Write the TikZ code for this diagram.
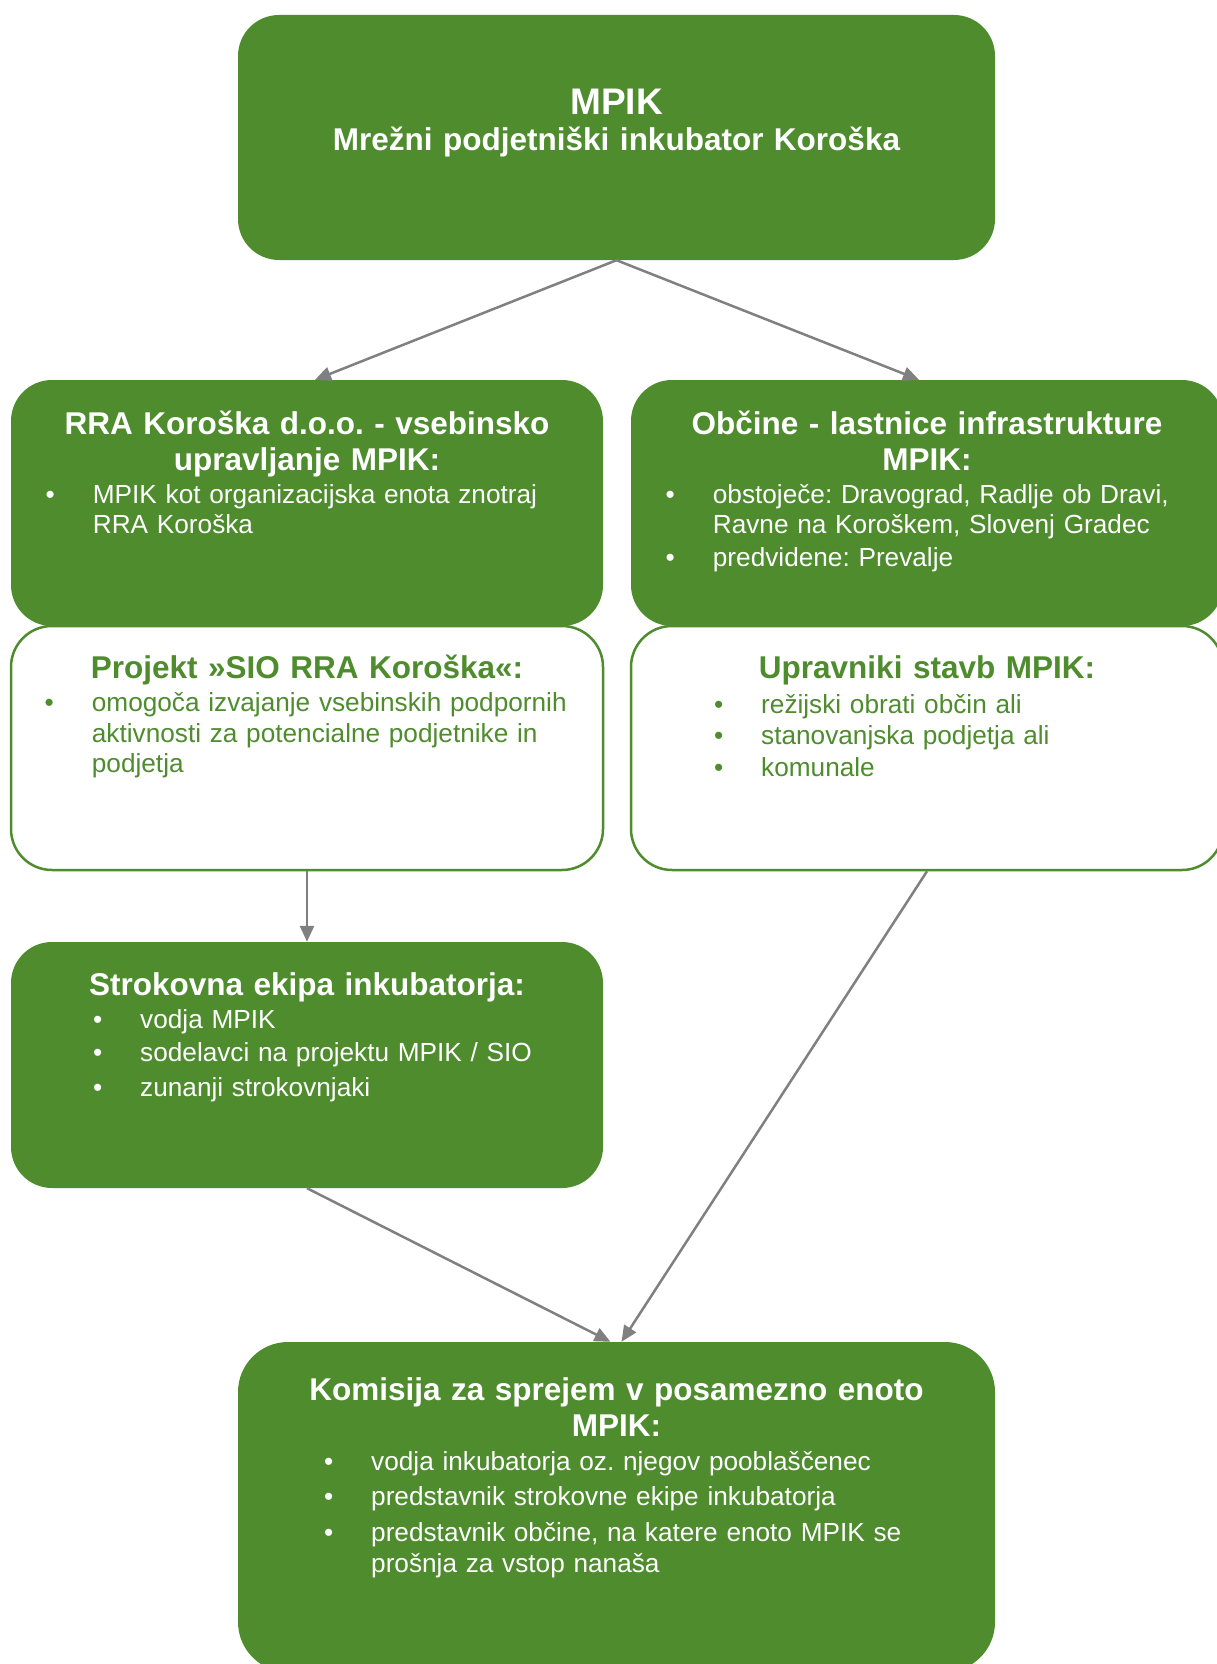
\documentclass[tikz,border=0pt]{standalone}
\usepackage{fontspec}
\setmainfont{Liberation Sans}
\usetikzlibrary{arrows.meta}
\frenchspacing

\definecolor{mpikgreen}{RGB}{78,140,46}
\definecolor{linegray}{RGB}{128,128,128}

\tikzset{
    greenbox/.style={rectangle, rounded corners=41pt, fill=mpikgreen,
        minimum width=592pt, minimum height=246pt, inner sep=0pt},
    whitebox/.style={rectangle, rounded corners=41pt, draw=mpikgreen,
        line width=2.5pt, fill=white, minimum width=592pt,
        minimum height=244pt, inner sep=0pt},
    headtxt/.style={anchor=base, inner sep=0pt, text width=720pt,
        align=center, text=white,
        font=\bfseries\fontsize{31.5}{36}\selectfont},
    itemtxt/.style={anchor=base west, inner sep=0pt, text width=600pt,
        align=left, text=white, font=\fontsize{26.2}{30.5}\selectfont,
        execute at begin node={\leavevmode\llap{\textbullet\hspace{38pt}}}},
    link/.style={draw=linegray, line width=2.5pt,
        -{Triangle[length=16pt,width=14pt]}}
}

\begin{document}
\begin{tikzpicture}[x=1pt, y=-1pt]
    \useasboundingbox (0,0) rectangle (1216,1664);

    % boxes
    \node[greenbox, minimum width=757pt, minimum height=245pt] (mpik) at (616.5,137.5) {};
    \node[greenbox] (rra) at (307,503) {};
    \node[greenbox] (obcine) at (927,503) {};
    \node[whitebox] (sio) at (307,748) {};
    \node[whitebox] (upravniki) at (927,748) {};
    \node[greenbox] (ekipa) at (307,1065) {};
    \node[greenbox, minimum width=757pt, minimum height=330pt,
        rounded corners=50pt] (komisija) at (616.5,1507) {};

    % top
    \node[headtxt, font=\bfseries\fontsize{37}{40}\selectfont] (mpik-name) at (616.5,115) {MPIK};
    \node[headtxt] (mpik-full) at (616.5,151) {Mrežni podjetniški inkubator Koroška};

    % left column
    \node[headtxt] (rra-head) at (307,434.3) {RRA Koroška d.o.o. - vsebinsko\\upravljanje MPIK:};
    \node[itemtxt] (rra-a) at (92.7,503.3) {MPIK kot organizacijska enota znotraj\\RRA Koroška};

    \node[headtxt, text=mpikgreen] (sio-head) at (307,678.3) {Projekt »SIO RRA Koroška«:};
    \node[itemtxt, text=mpikgreen] (sio-a) at (91.7,711.7)
        {omogoča izvajanje vsebinskih podpornih\\aktivnosti za potencialne podjetnike in\\podjetja};

    \node[headtxt] (ekipa-head) at (307,995) {Strokovna ekipa inkubatorja:};
    \node[itemtxt] (ekipa-a) at (140,1028.3) {vodja MPIK};
    \node[itemtxt] (ekipa-b) at (140,1061.7) {sodelavci na projektu MPIK / SIO};
    \node[itemtxt] (ekipa-c) at (140,1096.7) {zunanji strokovnjaki};

    % right column
    \node[headtxt] (obcine-head) at (927,434.3) {Občine - lastnice infrastrukture\\MPIK:};
    \node[itemtxt] (obcine-a) at (712.7,503.3) {obstoječe: Dravograd, Radlje ob Dravi,\\Ravne na Koroškem, Slovenj Gradec};
    \node[itemtxt] (obcine-b) at (712.7,566.7) {predvidene: Prevalje};

    \node[headtxt, text=mpikgreen] (upravniki-head) at (927,678.3) {Upravniki stavb MPIK:};
    \node[itemtxt, text=mpikgreen] (upravniki-a) at (761,713.3) {režijski obrati občin ali};
    \node[itemtxt, text=mpikgreen] (upravniki-b) at (761,744.3) {stanovanjska podjetja ali};
    \node[itemtxt, text=mpikgreen] (upravniki-c) at (761,776.7) {komunale};

    % bottom
    \node[headtxt] (komisija-head) at (616.5,1400) {Komisija za sprejem v posamezno enoto\\MPIK:};
    \node[itemtxt] (komisija-a) at (371,1470) {vodja inkubatorja oz. njegov pooblaščenec};
    \node[itemtxt] (komisija-b) at (371,1505) {predstavnik strokovne ekipe inkubatorja};
    \node[itemtxt] (komisija-c) at (371,1541.7) {predstavnik občine, na katere enoto MPIK se\\prošnja za vstop nanaša};

    % connectors
    \draw[link] (mpik.south) -- ([xshift=8pt]rra.north);
    \draw[link] (mpik.south) -- ([xshift=-8pt]obcine.north);
    \draw[link] (sio.south) -- (ekipa.north);
    \draw[link] (ekipa.south) -- ([xshift=-6pt]komisija.north);
    \draw[link] (upravniki.south) -- ([xshift=5pt]komisija.north);
\end{tikzpicture}
\end{document}
